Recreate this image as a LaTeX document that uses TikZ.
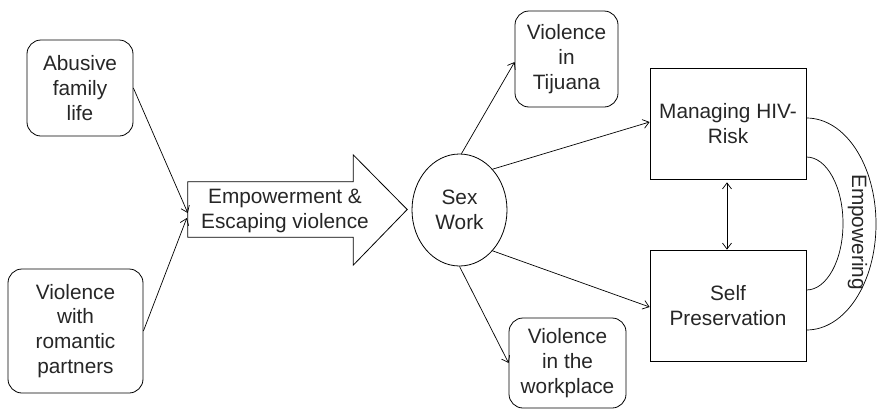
\documentclass[tikz,border=0pt]{standalone}
\usepackage{fontspec}
\setmainfont{Liberation Sans}
\usetikzlibrary{arrows.meta,calc,shapes.geometric}
\begin{document}
\begin{tikzpicture}[x=1pt,y=-1pt,
  every node/.style={font=\fontsize{20.8}{24.8}\selectfont, text=black!85,
    inner sep=0pt, align=center},
  roundbox/.style={draw, rounded corners=14pt, line width=0.8pt},
  sqbox/.style={draw, line width=0.8pt, minimum width=156pt, minimum height=111pt},
  link/.style={line width=0.7pt, -{Straight Barb[length=6pt,width=9pt]}},
  curve/.style={line width=0.7pt}
]
\useasboundingbox (0,0) rectangle (878,410);

% source boxes
\node[roundbox, minimum width=106pt, minimum height=96pt] (abuse) at (80,88)
  {Abusive\\family\\life};
\node[roundbox, minimum width=135pt, minimum height=124pt] (romantic) at (75.5,331)
  {Violence\\with\\romantic\\partners};

% block arrow
\node[minimum width=165pt, minimum height=55pt] (emp) at (270.5,209.5) {};
\draw[line width=0.8pt] (emp.north west) -- (emp.north east)
  -- ($(emp.north east)+(0,-27)$) -- ($(emp.east)+(54,0)$)
  -- ($(emp.south east)+(0,28)$) -- (emp.south east)
  -- (emp.south west) -- cycle;
\node (emplabel) at ($(emp)+(14.5,1.5)$) {Empowerment \&\\Escaping violence};

% central node
\node[draw, ellipse, line width=0.8pt, minimum width=95pt, minimum height=112pt]
  (sex) at (459.5,210) {Sex\\Work};

% outcome boxes
\node[roundbox, minimum width=103pt, minimum height=96pt] (tij) at (566.5,59)
  {Violence\\in\\Tijuana};
\node[roundbox, minimum width=117pt, minimum height=90pt] (work) at (567.5,363)
  {Violence\\in the\\workplace};
\node[sqbox] (mh) at (728,123.5) {Managing HIV-\\Risk};
\node[sqbox] (sp) at (728,305.5) {Self\\Preservation};

% connectors
\draw[link] (abuse.east) -- ($(emp.west)+(0,3.5)$);
\draw[link] (romantic.east) -- ($(emp.west)+(-1,8.5)$);
\draw[link] (sex.88) -- ($(tij.west)+(0,3)$);
\draw[link] (sex.51) -- ($(mh.west)+(0,-1.5)$);
\draw[link] (sex.-51) -- ($(sp.west)+(0,1.5)$);
\draw[link] (sex.south) -- (work.west);
\draw[line width=0.7pt, {Straight Barb[length=6pt,width=9pt]}-{Straight Barb[length=6pt,width=9pt]}]
  ($(mh.south)+(-1,3)$) -- ($(sp.north)+(-1,0)$);

% empowering loops
\draw[curve] ($(mh.east)+(0,-5.5)$) .. controls +(39,0) and +(0,-58.5) .. (876,224)
  .. controls +(0,58.5) and +(39,0) .. ($(sp.east)+(0,24.5)$);
\draw[curve] ($(mh.east)+(0,33.5)$) .. controls +(20.4,0) and +(0,-36.7) .. (843,223.5)
  .. controls +(0,36.7) and +(20.4,0) .. ($(sp.east)+(0,-15.5)$);
\node[rotate=-90] (empw) at (857.5,232) {Empowering};
\end{tikzpicture}
\end{document}
